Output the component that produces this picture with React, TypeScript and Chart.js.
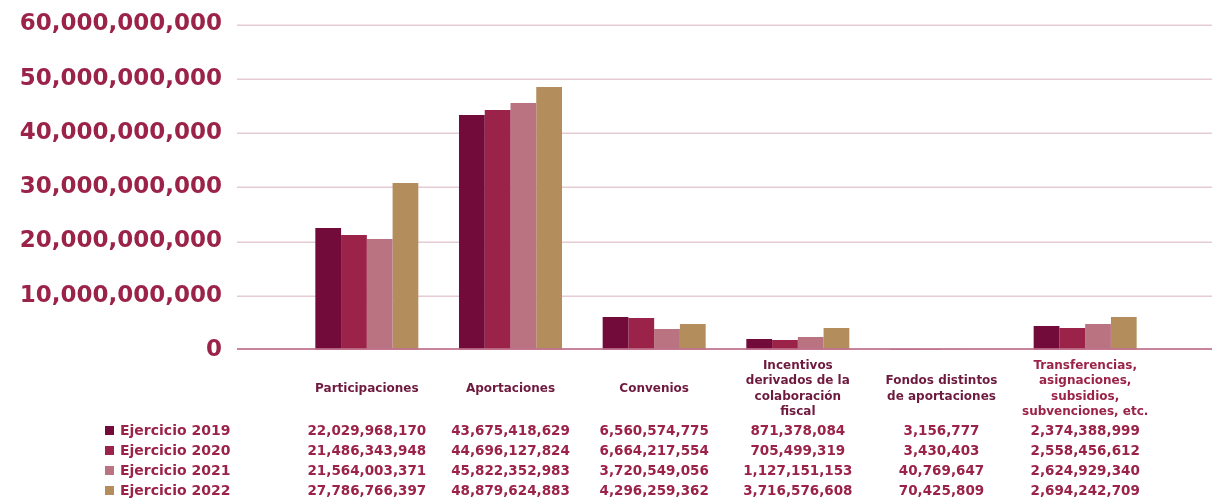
import React, { useEffect, useRef } from "react";
import { Chart, registerables } from "chart.js";

Chart.register(...registerables);

// ---- Data ----
const categories: string[][] = [
  ["Participaciones"],
  ["Aportaciones"],
  ["Convenios"],
  ["Incentivos", "derivados de la", "colaboración", "fiscal"],
  ["Fondos distintos", "de aportaciones"],
  ["Transferencias,", "asignaciones,", "subsidios,", "subvenciones, etc."],
];

const seriesNames = ["Ejercicio 2019", "Ejercicio 2020", "Ejercicio 2021", "Ejercicio 2022"];

// bar heights as drawn in the picture
const bars2019 = [22490000000, 43320000000, 6080000000, 2030000000, 3156777, 4420000000];
const bars2020 = [21200000000, 44240000000, 5900000000, 1840000000, 3430403, 4060000000];
const bars2021 = [20460000000, 45530000000, 3870000000, 2400000000, 40769647, 4790000000];
const bars2022 = [30780000000, 48480000000, 4790000000, 4060000000, 70425809, 6080000000];

// data table text
const table2019 = ["22,029,968,170", "43,675,418,629", "6,560,574,775", "871,378,084", "3,156,777", "2,374,388,999"];
const table2020 = ["21,486,343,948", "44,696,127,824", "6,664,217,554", "705,499,319", "3,430,403", "2,558,456,612"];
const table2021 = ["21,564,003,371", "45,822,352,983", "3,720,549,056", "1,127,151,153", "40,769,647", "2,624,929,340"];
const table2022 = ["27,786,766,397", "48,879,624,883", "4,296,259,362", "3,716,576,608", "70,425,809", "2,694,242,709"];

const yMin = 0;
const yMax = 60000000000;
const yStep = 10000000000;

// ---- Styles ----
const seriesColors = ["#720B39", "#9B2248", "#BA7381", "#B38E5C"];
const textRose = "#9B2248";
const headerColors = ["#6E1A3E", "#6E1A3E", "#6E1A3E", "#6E1A3E", "#6E1A3E", "#9B2248"];
const FONT = "'DejaVu Sans', sans-serif";
const GRID_LEFT = 237;

const tablePlugin = {
  id: "tableAndGrid",
  beforeDatasetsDraw(chart: any) {
    const { ctx } = chart;
    const y = chart.scales.y;
    ctx.save();
    ctx.strokeStyle = "#E6CBD2";
    ctx.lineWidth = 1.5;
    y.ticks.forEach((t: any) => {
      if (t.value === 0) return;
      const py = Math.round(y.getPixelForValue(t.value)) + 0.25;
      ctx.beginPath();
      ctx.moveTo(GRID_LEFT, py);
      ctx.lineTo(chart.width, py);
      ctx.stroke();
    });
    ctx.restore();
  },
  afterDatasetsDraw(chart: any) {
    const { ctx } = chart;
    const y = chart.scales.y;
    const py = y.getPixelForValue(0) - 1;
    ctx.save();
    ctx.strokeStyle = "rgba(190,110,140,0.85)";
    ctx.lineWidth = 2;
    ctx.beginPath();
    ctx.moveTo(GRID_LEFT, py);
    ctx.lineTo(chart.width, py);
    ctx.stroke();
    ctx.restore();
  },
  afterDraw(chart: any) {
    const { ctx, chartArea } = chart;
    const x = chart.scales.x;
    const tables = [table2019, table2020, table2021, table2022];
    ctx.save();
    // header (category) labels
    ctx.textAlign = "center";
    ctx.textBaseline = "middle";
    ctx.font = `bold 12px ${FONT}`;
    const headerCenter = chartArea.bottom + 39;
    const lh = 15.3;
    categories.forEach((lines, i) => {
      const cx = x.getPixelForValue(i);
      const startY = headerCenter - ((lines.length - 1) * lh) / 2;
      ctx.fillStyle = headerColors[i];
      lines.forEach((ln, j) => ctx.fillText(ln, cx, startY + j * lh));
    });
    // rows
    const rowStart = chartArea.bottom + 81;
    tables.forEach((row, s) => {
      const ry = rowStart + s * 20;
      ctx.fillStyle = seriesColors[s];
      ctx.fillRect(105, ry - 5, 9, 9);
      ctx.fillStyle = textRose;
      ctx.textAlign = "left";
      ctx.font = `bold 14px ${FONT}`;
      ctx.fillText(seriesNames[s], 120, ry);
      ctx.textAlign = "center";
      ctx.font = `bold 13.5px ${FONT}`;
      row.forEach((txt, i) => {
        ctx.fillText(txt, x.getPixelForValue(i), ry);
      });
    });
    ctx.restore();
  },
};

export default function App() {
  const ref = useRef<HTMLCanvasElement | null>(null);

  useEffect(() => {
    if (!ref.current) return;
    const barSets = [bars2019, bars2020, bars2021, bars2022];
    const chart = new Chart(ref.current, {
      type: "bar",
      data: {
        labels: categories.map((c) => c.join(" ")),
        datasets: barSets.map((d, i) => ({
          label: seriesNames[i],
          data: d,
          backgroundColor: seriesColors[i],
          borderWidth: 0,
          barPercentage: 1,
          categoryPercentage: 0.717,
        })),
      },
      options: {
        responsive: false,
        animation: false,
        layout: { padding: { top: 24.5, bottom: 149, right: 55, left: 0 } },
        plugins: {
          legend: { display: false },
          tooltip: { enabled: false },
          title: { display: false },
        },
        scales: {
          x: {
            display: false,
            grid: { display: false },
          },
          y: {
            min: yMin,
            max: yMax,
            grid: {
              display: true,
              drawOnChartArea: false,
              drawTicks: true,
              tickLength: 73,
              color: "rgba(0,0,0,0)",
              tickColor: "rgba(0,0,0,0)",
            },
            border: { display: false },
            afterFit: (scale: any) => {
              scale.width = 295;
            },
            ticks: {
              stepSize: yStep,
              autoSkip: false,
              padding: 0,
              color: textRose,
              font: { family: FONT, weight: "bold", size: 23 },
              callback: (v: any) => Number(v).toLocaleString("en-US"),
            },
          },
        },
      },
      plugins: [tablePlugin],
    });
    return () => chart.destroy();
  }, []);

  return (
    <div style={{ position: "fixed", left: 0, top: 0, width: 1212, height: 499, background: "#fff" }}>
      <canvas ref={ref} width={1212} height={499} />
    </div>
  );
}
